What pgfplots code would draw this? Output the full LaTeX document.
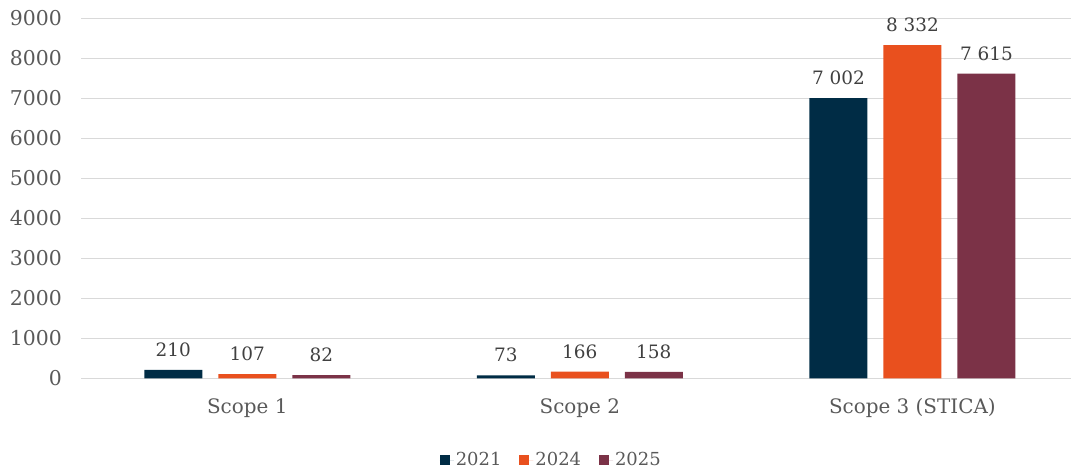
\documentclass[border=0pt]{standalone}
\usepackage{fontspec}
\setmainfont{DejaVu Serif}
\usepackage{pgfplots}
\pgfplotsset{compat=1.18}
\definecolor{c21}{HTML}{002C45}
\definecolor{c24}{HTML}{E9501E}
\definecolor{c25}{HTML}{7B3247}
\definecolor{gridc}{HTML}{D9D9D9}
\definecolor{txt}{HTML}{595959}
\definecolor{lbl}{HTML}{404040}
\begin{document}
\begin{tikzpicture}
\path[use as bounding box] (0,0) rectangle (1071bp,471bp);
\begin{axis}[
  at={(81bp,92.7bp)}, anchor=south west,
  scale only axis, width=990bp, height=360bp,
  ybar=16bp, bar width=58bp,
  xmin=-0.5, xmax=2.477, ymin=0, ymax=9000,
  ytick={0,1000,...,9000},
  xtick={0,1,2}, xticklabels={Scope 1, Scope 2, Scope 3 (STICA)},
  axis line style={draw=none}, major tick length=0pt,
  ymajorgrids, grid style={gridc, line width=1.2bp},
  /pgf/number format/assume math mode=true,
  yticklabel={\pgfmathprintnumber[1000 sep={}]{\tick}},
  yticklabel style={font=\fontsize{20.5}{20.5}\selectfont, text=txt, anchor=east, inner sep=0pt, xshift=-19bp},
  xticklabel style={font=\fontsize{20}{20}\selectfont, text=txt, anchor=north, inner sep=0pt, yshift=-20bp},
  nodes near coords={\pgfmathprintnumber[1000 sep={\ }, assume math mode=true]{\pgfplotspointmeta}},
  every node near coord/.append style={font=\fontsize{18.5}{18.5}\selectfont, text=lbl, anchor=south, inner sep=0pt, yshift=13bp},
  legend style={at={(0.475,-0.227)}, anchor=center, draw=none, fill=none,
    font=\fontsize{18}{18}\selectfont, text=txt,
    /tikz/every even column/.append style={column sep=16bp}},
  legend columns=3,
  legend image code/.code={\fill[#1] (0bp,-5bp) rectangle (10bp,5bp); \path (0bp,0bp) -- (14bp,0bp);},
]
\addplot[fill=c21, draw=none] coordinates {(0,210) (1,73) (2,7002)};
\addplot[fill=c24, draw=none] coordinates {(0,107) (1,166) (2,8332)};
\addplot[fill=c25, draw=none] coordinates {(0,82) (1,158) (2,7615)};
\legend{2021,2024,2025}
\end{axis}
\end{tikzpicture}
\end{document}
